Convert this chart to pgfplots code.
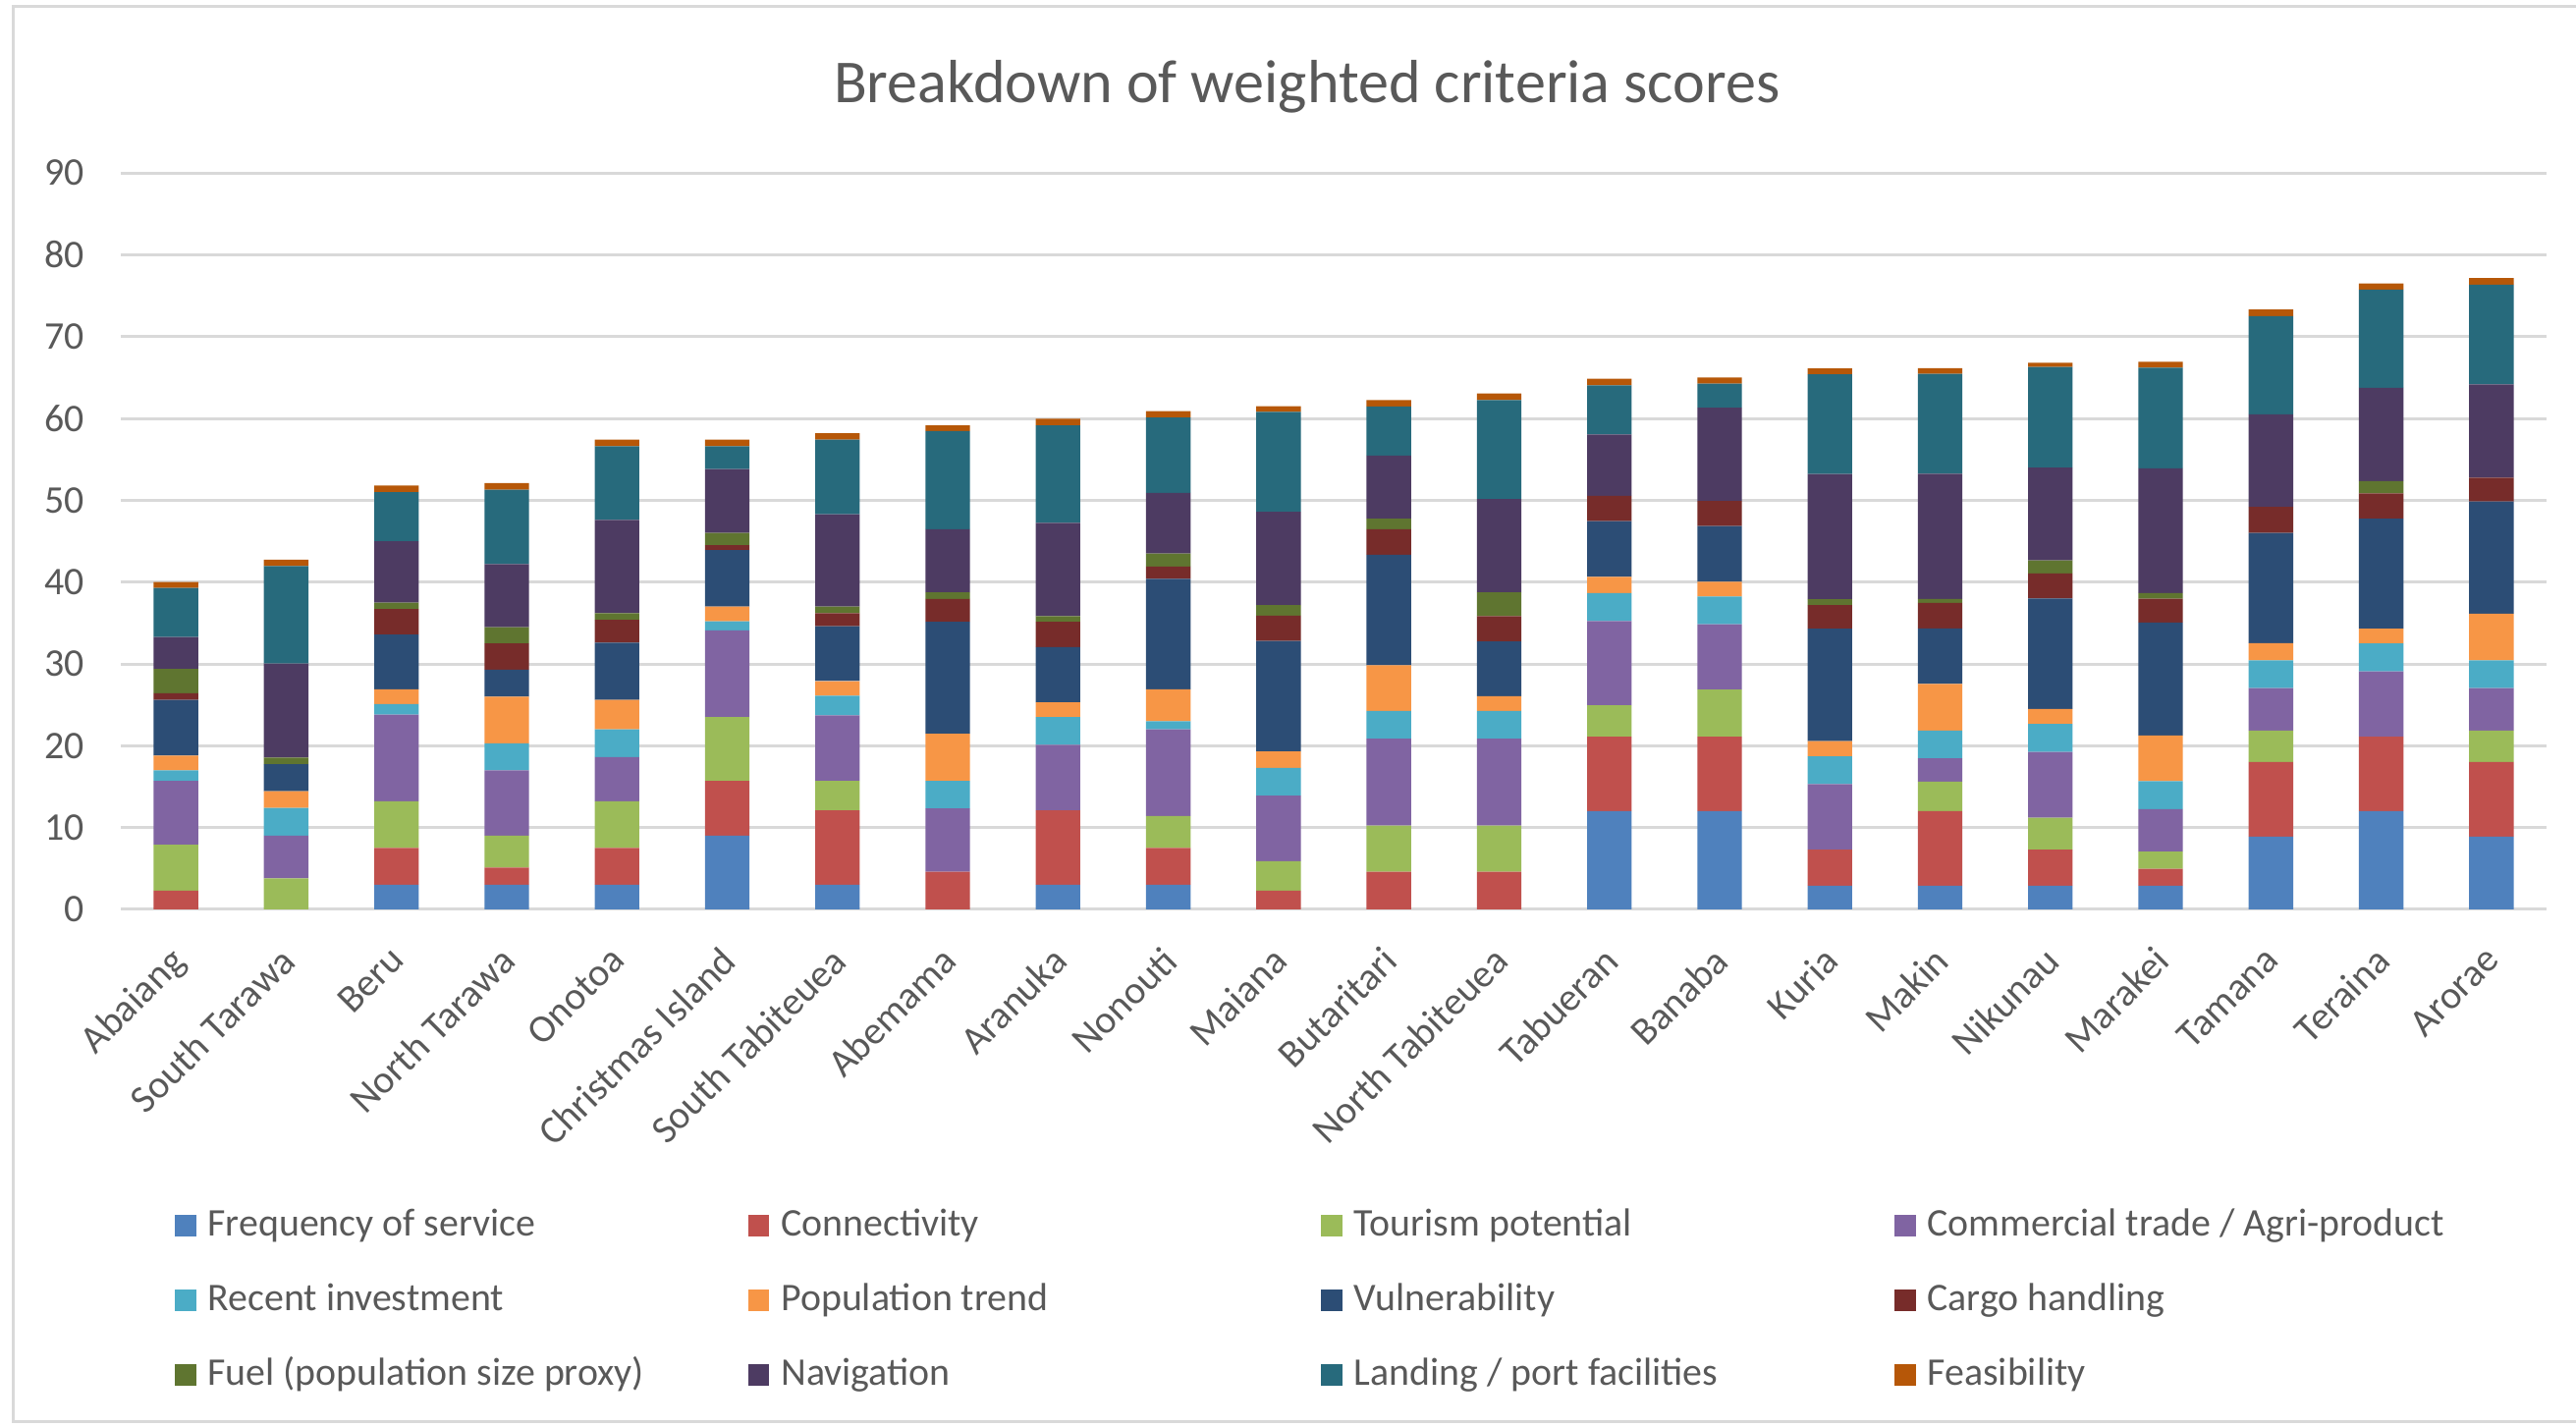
\documentclass[border=0pt]{standalone}
\usepackage{fontspec}
\setmainfont{Carlito}
\usepackage{pgfplots}
\usepackage{pgfplotstable}
\pgfplotsset{compat=1.18}
\definecolor{cF}{HTML}{4F81BD}
\definecolor{cC}{HTML}{C0504D}
\definecolor{cT}{HTML}{9BBB59}
\definecolor{cM}{HTML}{8064A2}
\definecolor{cR}{HTML}{4BACC6}
\definecolor{cP}{HTML}{F79646}
\definecolor{cV}{HTML}{2C4D75}
\definecolor{cG}{HTML}{772C2A}
\definecolor{cU}{HTML}{5F7530}
\definecolor{cN}{HTML}{4D3B62}
\definecolor{cL}{HTML}{276A7C}
\definecolor{cE}{HTML}{B65708}
\definecolor{txt}{HTML}{595959}
\definecolor{gridc}{HTML}{D9D9D9}
\pgfplotstableread{
X F C T M R P V G U N L E
0 0 2.3 5.6 7.8 1.3 1.8 6.8 0.8 3.0 3.9 6.0 0.7
1 0 0 3.8 5.2 3.4 2.05 3.3 0 0.8 11.5 11.9 0.8
2 3.0 4.5 5.7 10.6 1.3 1.8 6.7 3.1 0.8 7.5 6.0 0.8
3 3.0 2.1 3.9 8.0 3.3 5.7 3.3 3.2 2.0 7.7 9.1 0.8
4 3.0 4.5 5.7 5.4 3.4 3.6 7.0 2.8 0.8 11.4 9.0 0.8
5 9.0 6.7 7.8 10.6 1.1 1.8 6.9 0.6 1.5 7.8 2.8 0.8
6 3.0 9.1 3.6 8.0 2.4 1.8 6.7 1.6 0.8 11.3 9.1 0.8
7 0 4.6 0 7.75 3.35 5.75 13.7 2.8 0.8 7.7 12.0 0.7
8 3.0 9.1 0 8.0 3.4 1.8 6.75 3.1 0.7 11.4 11.9 0.8
9 3.0 4.5 3.9 10.6 1.0 3.9 13.5 1.5 1.6 7.4 9.2 0.8
10 0 2.3 3.6 8.0 3.4 2.0 13.5 3.1 1.3 11.4 12.2 0.7
11 0 4.6 5.65 10.6 3.4 5.6 13.5 3.1 1.3 7.7 6.0 0.8
12 0 4.6 5.65 10.6 3.4 1.8 6.7 3.1 2.9 11.4 12.1 0.8
13 12.0 9.1 3.85 10.3 3.4 2.0 6.8 3.1 0 7.5 6.0 0.8
14 12.0 9.1 5.75 8.0 3.4 1.8 6.8 3.05 0 11.4 2.95 0.75
15 2.9 4.4 0 8.0 3.4 1.85 13.75 2.9 0.7 15.3 12.2 0.7
16 2.9 9.1 3.6 2.85 3.4 5.7 6.8 3.1 0.5 15.3 12.2 0.7
17 2.9 4.4 3.9 8.05 3.4 1.85 13.5 3.05 1.6 11.35 12.3 0.5
18 2.9 2.06 2.1 5.2 3.4 5.6 13.8 2.9 0.7 15.25 12.3 0.7
19 8.9 9.1 3.85 5.2 3.4 2.1 13.45 3.2 0 11.3 12.0 0.8
20 12.0 9.1 0 8.0 3.4 1.8 13.45 3.1 1.5 11.4 12.0 0.75
21 8.9 9.1 3.85 5.2 3.4 5.7 13.7 2.9 0 11.4 12.2 0.8
}\data
\newcommand{\lbox}[1]{\makebox[165bp][l]{#1}}
\begin{document}
\begin{tikzpicture}
\useasboundingbox (0,0) rectangle (786.9bp,435.6bp);
\draw[gridc, line width=0.9bp] (3.9bp,1.5bp) rectangle (800bp,433.5bp);
\begin{axis}[
  at={(36.9bp,157.8bp)}, anchor=south west,
  scale only axis, width=741bp, height=225bp,
  ybar stacked, bar width=13.6bp,
  xmin=-0.5, xmax=21.5, ymin=0, ymax=90,
  ytick={0,10,...,90},
  xtick={0,...,21},
  xticklabels={Abaiang, South Tarawa, Beru, North Tarawa, Onotoa, Christmas Island, South Tabiteuea, Abemama, Aranuka, Nonouti, Maiana, Butaritari, North Tabiteuea, Tabueran, Banaba, Kuria, Makin, Nikunau, Marakei, Tamana, Teraina, Arorae},
  axis line style={draw=none},
  tick style={draw=none},
  major tick length=0pt,
  ymajorgrids, grid style={gridc, line width=0.9bp},
  /pgf/number format/assume math mode=true,
  yticklabel style={font=\fontsize{12}{14}\selectfont, text=txt, inner sep=0pt, xshift=-11bp},
  xticklabel style={font=\fontsize{12}{14}\selectfont, text=txt, xshift=-2.5bp, yshift=-10.5bp, rotate=45, anchor=north east, inner sep=0pt},
  title={Breakdown of weighted criteria scores},
  title style={font=\fontsize{18.7}{22}\selectfont, text=txt, at={(0.489,1.069)}, anchor=base, inner sep=0pt},
  legend columns=4,
  legend cell align=left,
  legend style={draw=none, fill=none, at={(0.02227,-0.4049)}, anchor=north west, inner sep=0pt, outer sep=0pt,
    nodes={inner sep=0pt, text height=8.5bp, text depth=2.5bp, font=\fontsize{12}{14}\selectfont, text=txt},
    row sep=11.8bp,
    /tikz/every odd column/.append style={column sep=3.6bp},
    /tikz/every even column/.append style={column sep=0bp}},
  every axis plot post/.append style={draw=none, legend image code/.code={\fill[##1] (0bp,-3.25bp) rectangle (6.5bp,3.25bp);}},
]
\addplot[fill=cF] table[x=X,y=F]{\data};
\addplot[fill=cC] table[x=X,y=C]{\data};
\addplot[fill=cT] table[x=X,y=T]{\data};
\addplot[fill=cM] table[x=X,y=M]{\data};
\addplot[fill=cR] table[x=X,y=R]{\data};
\addplot[fill=cP] table[x=X,y=P]{\data};
\addplot[fill=cV] table[x=X,y=V]{\data};
\addplot[fill=cG] table[x=X,y=G]{\data};
\addplot[fill=cU] table[x=X,y=U]{\data};
\addplot[fill=cN] table[x=X,y=N]{\data};
\addplot[fill=cL] table[x=X,y=L]{\data};
\addplot[fill=cE] table[x=X,y=E]{\data};
\legend{\lbox{Frequency of service},\lbox{Connectivity},\lbox{Tourism potential},\lbox{Commercial trade / Agri-product},
\lbox{Recent investment},\lbox{Population trend},\lbox{Vulnerability},\lbox{Cargo handling},
\lbox{Fuel (population size proxy)},\lbox{Navigation},\lbox{Landing / port facilities},\lbox{Feasibility}}
\end{axis}
\end{tikzpicture}
\end{document}
